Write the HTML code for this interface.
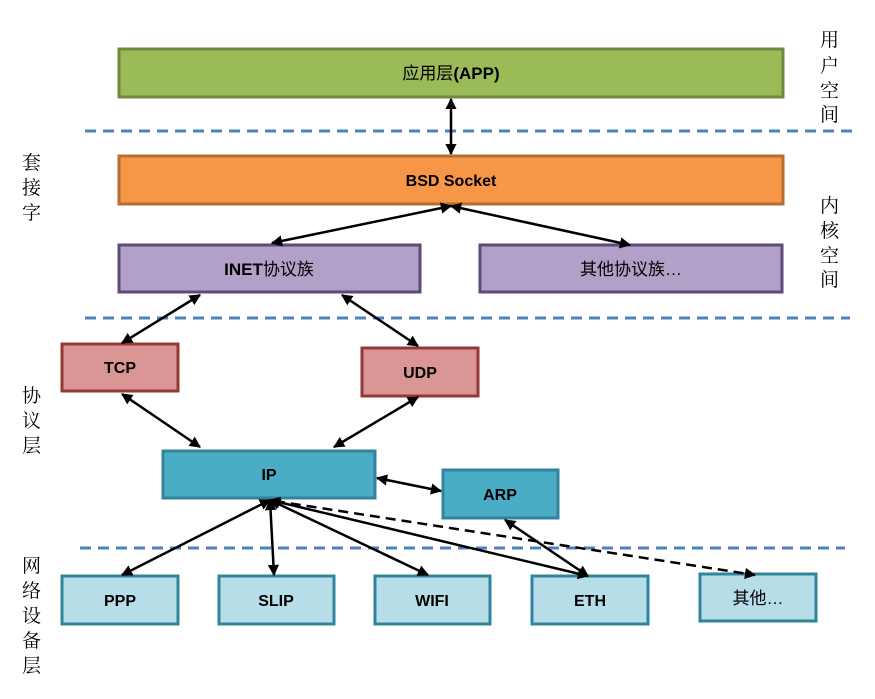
<!DOCTYPE html>
<html><head><meta charset="utf-8"><style>
html,body{margin:0;padding:0;background:#fff;width:875px;height:699px;overflow:hidden}
svg text{font-family:"Liberation Sans","Noto Sans CJK SC",sans-serif}
.l{font-family:"Noto Serif CJK SC","Liberation Serif",serif !important;font-size:19px}
.t{font-size:16px;font-weight:bold;text-anchor:middle}
</style></head><body>
<svg width="875" height="699" viewBox="0 0 875 699" xmlns="http://www.w3.org/2000/svg">
<defs>
<marker id="a" viewBox="0 0 10 10" refX="9" refY="5" markerWidth="4.5" markerHeight="4.5" orient="auto-start-reverse"><path d="M0,0 L10,5 L0,10 z" fill="#000"/></marker>
</defs>
<g stroke="#4f81bd" stroke-width="3" stroke-dasharray="11,7">
<line x1="85" y1="131" x2="855" y2="131"/>
<line x1="85" y1="318" x2="850" y2="318"/>
<line x1="80" y1="548" x2="845" y2="548"/>
</g>
<g stroke-width="3">
<rect x="119" y="49" width="664" height="48" fill="#9bbb59" stroke="#71893f"/>
<rect x="119" y="156" width="664" height="48" fill="#f79646" stroke="#b66d31"/>
<rect x="119" y="245" width="301" height="47" fill="#b1a0c7" stroke="#5f497a"/>
<rect x="480" y="245" width="302" height="47" fill="#b1a0c7" stroke="#5f497a"/>
<rect x="62" y="344" width="116" height="47" fill="#da9694" stroke="#953735"/>
<rect x="362" y="348" width="116" height="48" fill="#da9694" stroke="#953735"/>
<rect x="163" y="451" width="212" height="47" fill="#4bacc6" stroke="#31849b"/>
<rect x="443" y="470" width="115" height="48" fill="#4bacc6" stroke="#31849b"/>
<rect x="62" y="576" width="116" height="48" fill="#b7dee8" stroke="#31849b"/>
<rect x="219" y="576" width="115" height="48" fill="#b7dee8" stroke="#31849b"/>
<rect x="375" y="576" width="115" height="48" fill="#b7dee8" stroke="#31849b"/>
<rect x="532" y="576" width="116" height="48" fill="#b7dee8" stroke="#31849b"/>
<rect x="700" y="574" width="116" height="47" fill="#b7dee8" stroke="#31849b"/>
</g>
<g stroke="#000" stroke-width="2.5" marker-start="url(#a)" marker-end="url(#a)">
<line x1="451" y1="99" x2="451" y2="154"/>
<line x1="451" y1="206" x2="272" y2="243"/>
<line x1="451" y1="206" x2="630" y2="245"/>
<line x1="200" y1="295" x2="122" y2="343"/>
<line x1="342" y1="295" x2="418" y2="346"/>
<line x1="122" y1="394" x2="200" y2="447"/>
<line x1="418" y1="397" x2="334" y2="447"/>
<line x1="377" y1="478" x2="441" y2="491"/>
<line x1="270" y1="500" x2="122" y2="575"/>
<line x1="270" y1="500" x2="274" y2="575"/>
<line x1="270" y1="500" x2="428" y2="575"/>
<line x1="270" y1="500" x2="588" y2="576"/>
<line x1="505" y1="520" x2="588" y2="576"/>
</g>
<line x1="275" y1="501" x2="755" y2="575" stroke="#000" stroke-width="2.5" stroke-dasharray="10,6" marker-end="url(#a)"/>
<text class="t" x="451" y="79" style="font-weight:normal;font-size:17px">应用层<tspan font-weight="bold">(APP)</tspan></text>
<text class="t" x="451" y="186">BSD Socket</text>
<text class="t" x="269" y="275" style="font-size:17px">INET<tspan font-weight="normal">协议族</tspan></text>
<text class="t" x="631" y="275" style="font-weight:normal;font-size:17px">其他协议族…</text>
<text class="t" x="120" y="373">TCP</text>
<text class="t" x="420" y="378">UDP</text>
<text class="t" x="269" y="480">IP</text>
<text class="t" x="500" y="500">ARP</text>
<text class="t" x="120" y="606">PPP</text>
<text class="t" x="276" y="606">SLIP</text>
<text class="t" x="432" y="606">WIFI</text>
<text class="t" x="590" y="606">ETH</text>
<text class="t" x="758" y="604" style="font-weight:normal;font-size:17px">其他…</text>
<g class="l">
<text class="l" x="820" y="46">用</text><text class="l" x="820" y="72">户</text><text class="l" x="820" y="97">空</text><text class="l" x="820" y="121">间</text>
<text class="l" x="820" y="212">内</text><text class="l" x="820" y="237">核</text><text class="l" x="820" y="262">空</text><text class="l" x="820" y="286">间</text>
<text class="l" x="22" y="169">套</text><text class="l" x="22" y="194">接</text><text class="l" x="22" y="219">字</text>
<text class="l" x="22" y="402">协</text><text class="l" x="22" y="427">议</text><text class="l" x="22" y="452">层</text>
<text class="l" x="22" y="572">网</text><text class="l" x="22" y="597">络</text><text class="l" x="22" y="622">设</text><text class="l" x="22" y="647">备</text><text class="l" x="22" y="672">层</text>
</g>
</svg>
</body></html>
